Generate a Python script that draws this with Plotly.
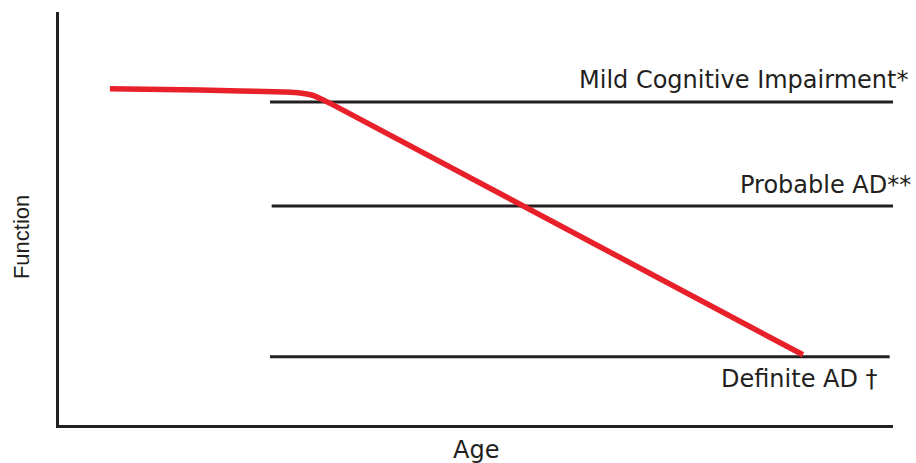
import plotly.graph_objects as go

# Abstract 0-100 scales (Age horizontally, Function vertically)
curve_age = [6.1, 16.9, 27.1, 28.9, 30.3, 31.5, 32.7, 89.2]
curve_function = [81.4, 81.1, 80.6, 80.4, 79.9, 78.9, 77.7, 17.0]

threshold_names = ["Mild Cognitive Impairment*", "Probable AD**", "Definite AD †"]
threshold_levels = [78.2, 53.0, 16.5]
threshold_start = [25.3, 25.5, 25.3]
threshold_end = [100.0, 100.0, 99.6]
label_levels = [83.5, 58.0, 11.1]
label_right = [1.0204, 1.024, 0.9844]

FONT = "DejaVu Sans, Verdana, sans-serif"
FONT2 = "Liberation Sans, Arial, Helvetica, sans-serif"
TXT = "#231f20"

fig = go.Figure()

for name, lvl, x0, x1 in zip(threshold_names, threshold_levels, threshold_start, threshold_end):
    fig.add_trace(go.Scatter(x=[x0, x1], y=[lvl, lvl], mode="lines",
                             line=dict(color=TXT, width=3), hoverinfo="skip",
                             showlegend=False, cliponaxis=False))

fig.add_trace(go.Scatter(x=curve_age, y=curve_function, mode="lines",
                         line=dict(color="#e8202a", width=5.5, shape="spline", smoothing=0.6),
                         showlegend=False, cliponaxis=False))

for name, ly, rx in zip(threshold_names, label_levels, label_right):
    fig.add_annotation(x=rx, y=ly, xref="paper", yref="y", text=name, showarrow=False,
                       xanchor="right", yanchor="middle",
                       font=dict(family=FONT, size=24, color=TXT))

fig.add_annotation(x=0.5, y=0, xref="paper", yref="paper", yshift=-25, text="Age",
                   showarrow=False, xanchor="center", yanchor="middle",
                   font=dict(family=FONT, size=24, color=TXT))
fig.add_annotation(x=0, y=0.455, xref="paper", yref="paper", xshift=-38, text="Function",
                   textangle=-90, showarrow=False, xanchor="center", yanchor="middle",
                   font=dict(family=FONT2, size=22, color=TXT))

fig.update_xaxes(range=[0, 100], showline=True, linecolor=TXT, linewidth=3,
                 showgrid=False, zeroline=False, showticklabels=False, ticks="")
fig.update_yaxes(range=[0, 100], showline=True, linecolor=TXT, linewidth=3,
                 showgrid=False, zeroline=False, showticklabels=False, ticks="")

fig.update_layout(width=916, height=463, margin=dict(l=59, r=23, t=12, b=38),
                  plot_bgcolor="white", paper_bgcolor="white")

fig.write_html("out.html", config={"displayModeBar": False},
               post_script="document.body.style.margin='0';document.body.style.overflow='hidden';")
